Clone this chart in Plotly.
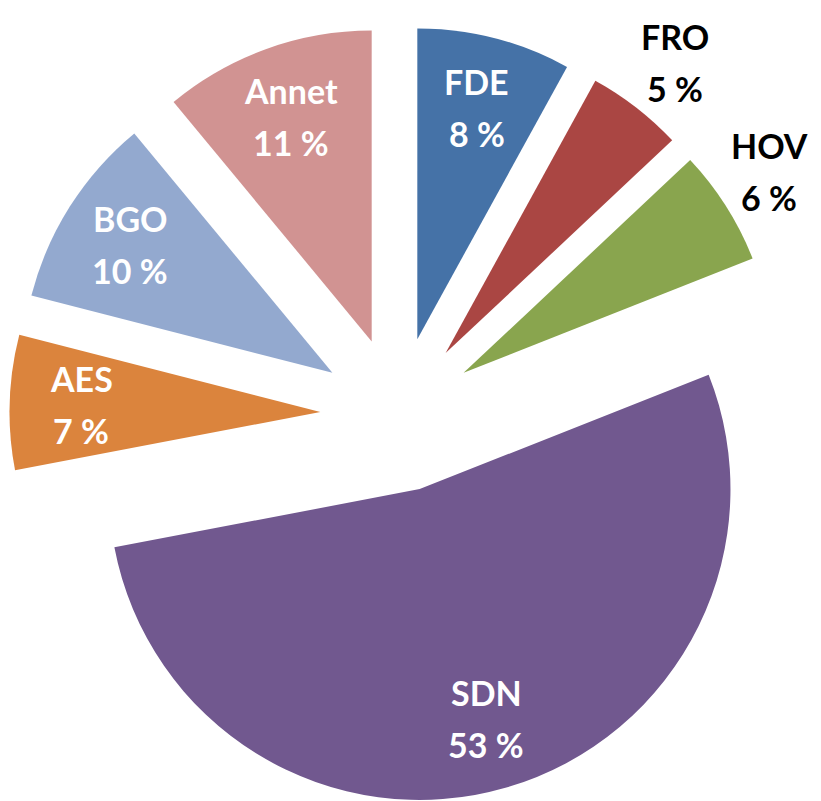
import math
import plotly.graph_objects as go

labels = ["FDE", "FRO", "HOV", "SDN", "AES", "BGO", "Annet"]
values = [8, 5, 6, 53, 7, 10, 11]
colors = ["#4572A7", "#AA4643", "#89A54E", "#71588F", "#DB843D", "#93A9CF", "#D19392"]
label_side = ["inside", "outside", "outside", "inside", "inside", "inside", "inside"]

W_FIG, H_FIG = 821, 801
M = dict(l=0, r=41, t=18, b=6)
PULL = 0.25
FONT = "Lato"
FSIZE = 34

fig = go.Figure(go.Pie(
    labels=labels,
    values=values,
    sort=False,
    direction="clockwise",
    rotation=0,
    pull=[PULL] * len(values),
    marker=dict(colors=colors, line=dict(width=0)),
    textinfo="none",
    hoverinfo="label+value",
    showlegend=False,
))

# Data labels placed along each slice's mid-angle (derived from the values)
pw = W_FIG - M["l"] - M["r"]
ph = H_FIG - M["t"] - M["b"]
cx = M["l"] + pw / 2
cy = M["t"] + ph / 2
radius = min(pw, ph) / 2 / (1 + PULL)
half_w, half_h = 38, 40          # approx. half size of a two-line label box
right_limit = W_FIG - 22         # keep outside labels within the visible page
top_limit = 14
total = sum(values)
cum = 0
for lab, val, side in zip(labels, values, label_side):
    mid = (cum + val / 2) / total * 2 * math.pi
    cum += val
    s, c = math.sin(mid), math.cos(mid)
    if side == "inside":
        d = radius * 1.02
        px, py = cx + d * s, cy - d * c
        col = "white"
    else:
        d = radius * 1.33
        px = cx + d * s + half_w * s
        py = cy - d * c - half_h * c
        px = min(px, right_limit - half_w)
        py = max(py, top_limit + half_h)
        col = "black"
    xp = (px - M["l"]) / pw
    yp = 1 - (py - M["t"]) / ph
    pct = f"{round(val / total * 100)} %"
    for txt, ys in ((lab, 26), (pct, -26)):
        fig.add_annotation(
            x=xp, y=yp, xref="paper", yref="paper",
            text=txt, showarrow=False, xanchor="center", yanchor="middle",
            yshift=ys,
            font=dict(family=FONT, size=FSIZE, color=col, weight="bold"),
        )

fig.update_layout(
    width=W_FIG, height=H_FIG,
    margin=M,
    paper_bgcolor="white",
    font=dict(family=FONT),
)

fig.write_html("out.html")
